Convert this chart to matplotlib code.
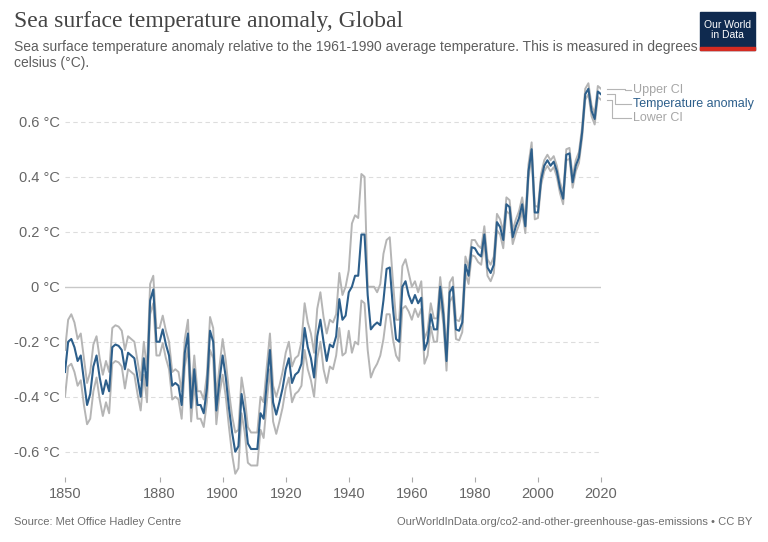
import numpy as np
import matplotlib.pyplot as plt
from matplotlib.patches import Rectangle

# yearly sea surface temperature anomaly, global (deg C, vs 1961-1990)
years = np.arange(1850, 2021)

anomaly = [
    -0.31, -0.20, -0.19, -0.22, -0.27, -0.25, -0.34, -0.43, -0.39, -0.29,
    -0.25, -0.33, -0.39, -0.34, -0.38, -0.22, -0.21, -0.215, -0.23, -0.30,
    -0.24, -0.25, -0.26, -0.33, -0.40, -0.26, -0.36, -0.05, -0.01, -0.20,
    -0.20, -0.155, -0.21, -0.25, -0.36, -0.35, -0.36, -0.43, -0.24, -0.17,
    -0.44, -0.30, -0.43, -0.43, -0.46, -0.37, -0.16, -0.20, -0.45, -0.34,
    -0.25, -0.33, -0.44, -0.53, -0.60, -0.58, -0.39, -0.46, -0.57, -0.59,
    -0.59, -0.59, -0.46, -0.48, -0.35, -0.23, -0.42, -0.465, -0.42, -0.37,
    -0.30, -0.26, -0.35, -0.32, -0.31, -0.28, -0.15, -0.22, -0.26, -0.33,
    -0.18, -0.12, -0.20, -0.27, -0.21, -0.22, -0.18, -0.045, -0.12, -0.105,
    -0.02, 0.00, 0.04, 0.04, 0.19, 0.19, -0.03, -0.155, -0.14, -0.13,
    -0.14, -0.05, 0.065, 0.07, -0.075, -0.19, -0.20, 0.00, 0.02, -0.03,
    -0.06, -0.03, -0.06, -0.04, -0.23, -0.20, -0.10, -0.155, -0.155, 0.00,
    -0.10, -0.27, -0.02, 0.00, -0.155, -0.16, -0.13, 0.08, 0.04, 0.144,
    0.14, 0.12, 0.11, 0.19, 0.07, 0.05, 0.08, 0.235, 0.217, 0.17,
    0.30, 0.29, 0.18, 0.22, 0.25, 0.30, 0.22, 0.42, 0.50, 0.27,
    0.27, 0.39, 0.44, 0.46, 0.44, 0.455, 0.42, 0.36, 0.32, 0.48,
    0.485, 0.38, 0.44, 0.47, 0.56, 0.70, 0.72, 0.64, 0.61, 0.71,
    0.70,
]

upper_ci = [
    -0.23, -0.12, -0.10, -0.13, -0.19, -0.17, -0.26, -0.35, -0.31, -0.21,
    -0.18, -0.26, -0.32, -0.27, -0.31, -0.15, -0.14, -0.145, -0.16, -0.23,
    -0.18, -0.19, -0.20, -0.27, -0.34, -0.20, -0.30, 0.01, 0.04, -0.15,
    -0.15, -0.105, -0.16, -0.20, -0.31, -0.30, -0.31, -0.38, -0.19, -0.12,
    -0.39, -0.25, -0.38, -0.38, -0.41, -0.32, -0.11, -0.15, -0.40, -0.29,
    -0.19, -0.27, -0.38, -0.47, -0.53, -0.52, -0.33, -0.40, -0.51, -0.53,
    -0.53, -0.53, -0.40, -0.42, -0.29, -0.17, -0.36, -0.40, -0.36, -0.31,
    -0.24, -0.20, -0.29, -0.26, -0.25, -0.20, -0.06, -0.13, -0.17, -0.24,
    -0.08, -0.02, -0.11, -0.17, -0.12, -0.13, -0.10, 0.05, -0.03, 0.00,
    0.06, 0.23, 0.26, 0.25, 0.41, 0.40, 0.00, 0.00, 0.00, -0.02,
    0.01, 0.12, 0.17, 0.18, 0.02, -0.12, -0.12, 0.075, 0.10, 0.05,
    0.00, 0.02, -0.02, 0.02, -0.19, -0.16, -0.06, -0.115, -0.115, 0.035,
    -0.065, -0.235, 0.015, 0.035, -0.12, -0.125, -0.095, 0.11, 0.07, 0.17,
    0.17, 0.15, 0.14, 0.22, 0.10, 0.08, 0.11, 0.265, 0.245, 0.20,
    0.325, 0.315, 0.205, 0.245, 0.275, 0.325, 0.245, 0.445, 0.525, 0.295,
    0.29, 0.41, 0.46, 0.48, 0.46, 0.475, 0.44, 0.38, 0.34, 0.50,
    0.505, 0.40, 0.46, 0.49, 0.58, 0.72, 0.74, 0.66, 0.63, 0.73,
    0.72,
]

lower_ci = [
    -0.40, -0.29, -0.28, -0.31, -0.36, -0.34, -0.43, -0.50, -0.48, -0.38,
    -0.33, -0.41, -0.47, -0.42, -0.46, -0.28, -0.27, -0.275, -0.29, -0.37,
    -0.30, -0.31, -0.32, -0.39, -0.45, -0.32, -0.42, -0.10, -0.06, -0.25,
    -0.25, -0.205, -0.26, -0.30, -0.41, -0.40, -0.41, -0.48, -0.29, -0.22,
    -0.49, -0.35, -0.48, -0.48, -0.51, -0.42, -0.23, -0.26, -0.50, -0.39,
    -0.32, -0.40, -0.51, -0.61, -0.68, -0.66, -0.46, -0.53, -0.64, -0.65,
    -0.65, -0.65, -0.52, -0.55, -0.42, -0.30, -0.49, -0.535, -0.49, -0.44,
    -0.37, -0.33, -0.42, -0.39, -0.38, -0.36, -0.23, -0.30, -0.34, -0.40,
    -0.26, -0.20, -0.30, -0.35, -0.29, -0.30, -0.25, -0.15, -0.25, -0.24,
    -0.16, -0.24, -0.20, -0.21, -0.05, -0.06, -0.23, -0.33, -0.30, -0.28,
    -0.25, -0.19, -0.10, -0.10, -0.19, -0.25, -0.27, -0.08, -0.07, -0.09,
    -0.12, -0.08, -0.11, -0.08, -0.28, -0.25, -0.145, -0.20, -0.20, -0.04,
    -0.135, -0.305, -0.055, -0.035, -0.19, -0.195, -0.165, 0.05, 0.01, 0.115,
    0.11, 0.09, 0.08, 0.16, 0.04, 0.02, 0.05, 0.205, 0.19, 0.14,
    0.275, 0.265, 0.155, 0.195, 0.225, 0.275, 0.195, 0.395, 0.475, 0.245,
    0.25, 0.37, 0.42, 0.44, 0.42, 0.435, 0.40, 0.34, 0.30, 0.46,
    0.465, 0.36, 0.42, 0.45, 0.54, 0.68, 0.70, 0.62, 0.59, 0.69,
    0.68,
]

yticks = [-0.6, -0.4, -0.2, 0, 0.2, 0.4, 0.6]
xticks = [1850, 1880, 1900, 1920, 1940, 1960, 1980, 2000, 2020]

blue = '#2d5f8b'
grey = '#b5b5b5'
W, H = 768, 542

plt.rcParams['font.family'] = ['Liberation Sans', 'DejaVu Sans']

fig = plt.figure(figsize=(W / 100, H / 100), dpi=100)
ax = fig.add_axes([65 / W, 1 - 476.5 / H, 536 / W, 396 / H])

ax.plot(years, upper_ci, color=grey, lw=1.4, zorder=2)
ax.plot(years, lower_ci, color=grey, lw=1.4, zorder=2)
ax.plot(years, anomaly, color=blue, lw=1.5, zorder=3)

ax.set_xlim(1850, 2020)
ax.set_ylim(-0.69, 0.75)
for s in ax.spines.values():
    s.set_visible(False)

ax.set_yticks(yticks)
ax.set_yticklabels([f'{v:g} °C' for v in yticks])
ax.set_xticks(xticks)
ax.set_xticklabels([str(v) for v in xticks])
ax.tick_params(axis='y', length=0, pad=4, labelsize=10.5, labelcolor='#666666')
ax.tick_params(axis='x', length=3.5, color='#aaaaaa', pad=4, labelsize=10.5,
               labelcolor='#666666')
for v in yticks:
    if v == 0:
        ax.axhline(0, color='#c8c8c8', lw=1, zorder=1)
    else:
        ax.axhline(v, color='#dddddd', lw=0.8, ls=(0, (4, 3)), zorder=1)

# line labels with connectors on the right
labels = [('Upper CI', upper_ci[-1], 2027.6, 0.715, '#a6a6a6'),
          ('Temperature anomaly', anomaly[-1], 2024.4, 0.666, blue),
          ('Lower CI', lower_ci[-1], 2023.5, 0.615, '#a6a6a6')]
for text, y0, xe, yl, tc in labels:
    ax.plot([2021.8, xe, xe, 2029.4], [y0, y0, yl, yl], color=grey, lw=0.8,
            clip_on=False)
    ax.text(2030.1, yl, text, color=tc, fontsize=9, va='center', ha='left')

fig.text(14 / W, 1 - 21 / H, 'Sea surface temperature anomaly, Global',
         family='Liberation Serif', fontsize=17, color='#444444', va='center')
fig.text(14 / W, 1 - 55 / H,
         'Sea surface temperature anomaly relative to the 1961-1990 average '
         'temperature. This is measured in degrees\ncelsius (°C).',
         fontsize=10, color='#5e5e5e', va='center', linespacing=1.2)
fig.text(14 / W, 1 - 522 / H, 'Source: Met Office Hadley Centre',
         fontsize=8, color='#6e6e6e', va='center')
fig.text(752 / W, 1 - 522 / H,
         'OurWorldInData.org/co2-and-other-greenhouse-gas-emissions • CC BY',
         fontsize=8, color='#6e6e6e', va='center', ha='right')

# logo
fig.patches.append(Rectangle((700 / W, 1 - 50 / H), 55 / W, 38 / H,
                             transform=fig.transFigure, color='#0f2a4f'))
fig.patches.append(Rectangle((700 / W, 1 - 50 / H), 55 / W, 3 / H,
                             transform=fig.transFigure, color='#d42b21'))
fig.text(727.5 / W, 1 - 30 / H, 'Our World\nin Data', color='white',
         fontsize=7.5, ha='center', va='center', linespacing=1.0)

fig.savefig('out.png', dpi=100)
